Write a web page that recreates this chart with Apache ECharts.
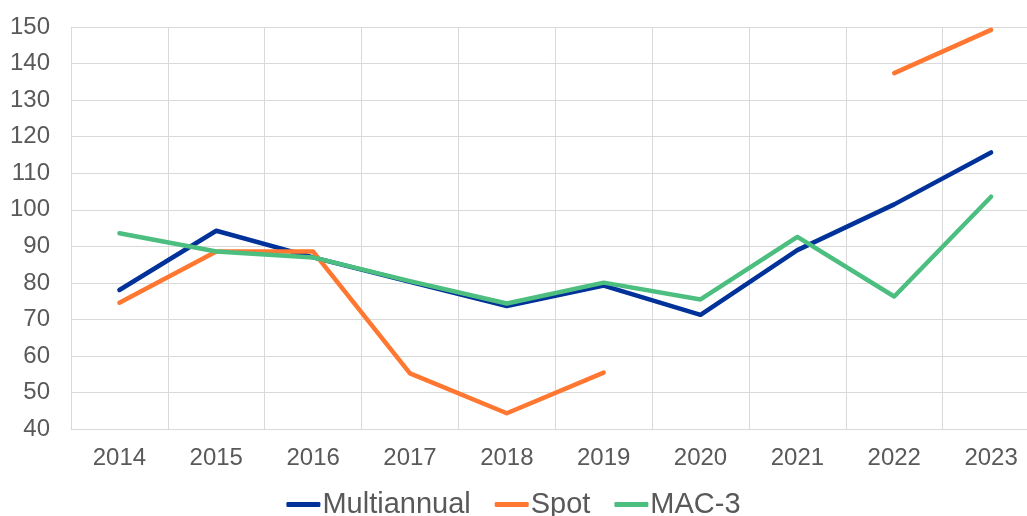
<!DOCTYPE html>
<html>
<head>
<meta charset="utf-8">
<script src="https://cdn.jsdelivr.net/npm/echarts@6/dist/echarts.min.js"></script>
<style>html,body{margin:0;padding:0;background:#fff;}#c{width:1027px;height:516px;}</style>
</head>
<body>
<div id="c"></div>
<script>
const categories = ['2014','2015','2016','2017','2018','2019','2020','2021','2022','2023'];
const multiannual = [78.1, 94.3, 87.0, 80.3, 73.7, 79.3, 71.3, 89.0, 101.5, 115.7];
const spot = [74.6, 88.6, 88.6, 55.3, 44.4, 55.5, null, null, 137.4, 149.2];
const mac3 = [93.6, 88.6, 87.0, 80.5, 74.4, 80.1, 75.5, 92.6, 76.3, 103.6];
const yTicks = { min: 40, max: 150, interval: 10 };

const chart = echarts.init(document.getElementById('c'), null, { renderer: 'canvas' });
const font = 'Liberation Sans, Arial, sans-serif';
const mk = (name, data, color) => ({
  name, type: 'line', data, connectNulls: false,
  symbol: 'none', smooth: false,
  lineStyle: { color, width: 4.5, cap: 'round', join: 'round' },
  itemStyle: { color },
  emphasis: { disabled: true }
});
chart.setOption({
  animation: false,
  grid: { left: 71, top: 27, width: 968.5, height: 402.3, containLabel: false, outerBoundsMode: 'none' },
  xAxis: {
    type: 'category', data: categories, boundaryGap: true,
    axisLine: { show: true, lineStyle: { color: '#d9d9d9', width: 1 } },
    axisTick: { show: false },
    splitLine: { show: true, lineStyle: { color: '#d9d9d9', width: 1 } },
    axisLabel: { color: '#595959', fontSize: 24, fontFamily: font, margin: 17 }
  },
  yAxis: {
    type: 'value', min: yTicks.min, max: yTicks.max, interval: yTicks.interval,
    axisLine: { show: false }, axisTick: { show: false },
    splitLine: { show: true, lineStyle: { color: '#d9d9d9', width: 1 } },
    axisLabel: { color: '#595959', fontSize: 24, fontFamily: font, margin: 21 }
  },
  legend: {
    bottom: -8, left: 'center', itemGap: 24, itemWidth: 34, itemHeight: 5,
    icon: 'roundRect',
    textStyle: { color: '#595959', fontSize: 29, fontFamily: font, padding: [0,0,0,-3] },
    data: ['Multiannual','Spot','MAC-3']
  },
  series: [
    mk('Multiannual', multiannual, '#003299'),
    mk('Spot', spot, '#ff7730'),
    mk('MAC-3', mac3, '#4cbf80')
  ]
});
</script>
</body>
</html>
